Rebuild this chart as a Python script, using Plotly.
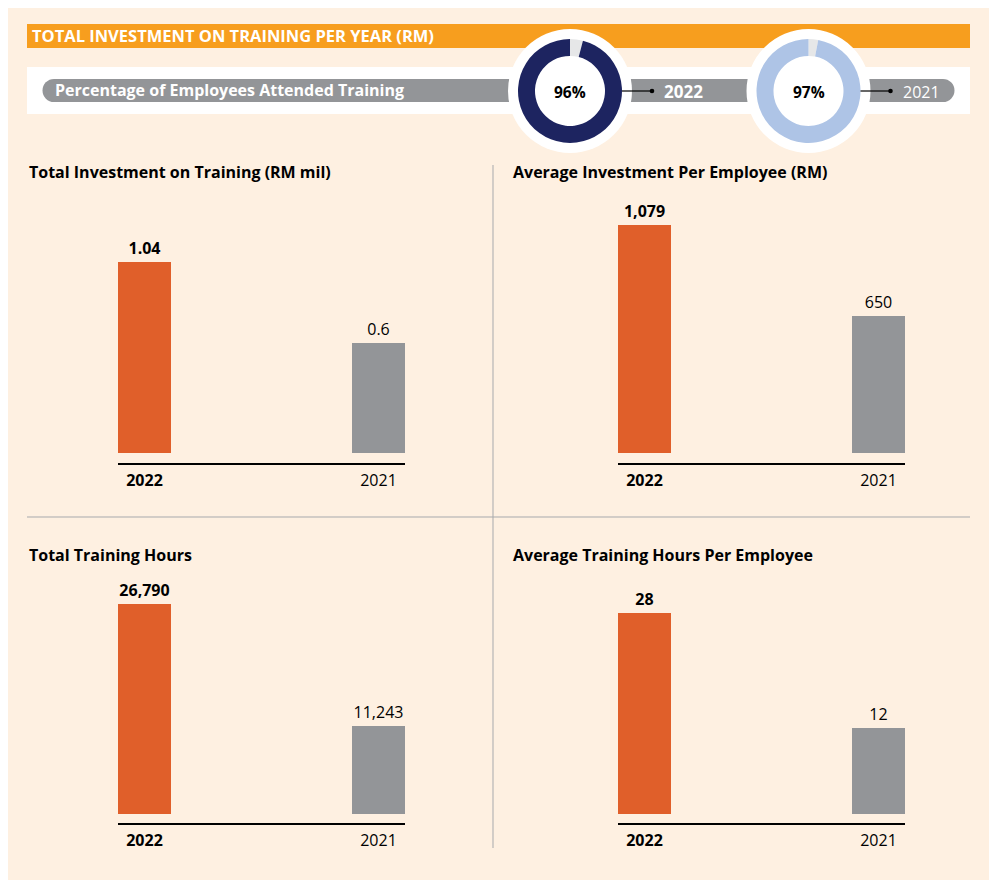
import plotly.graph_objects as go

# ---------------- data ----------------
years = ["2022", "2021"]
attend_pct = [96, 97]
invest_total_rm_mil = [1.04, 0.6]
invest_per_employee_rm = [1079, 650]
training_hours_total = [26790, 11243]
training_hours_per_employee = [28, 12]

panel_titles = [
    "Total Investment on Training (RM mil)",
    "Average Investment Per Employee (RM)",
    "Total Training Hours",
    "Average Training Hours Per Employee",
]
banner_title = "TOTAL INVESTMENT ON TRAINING PER YEAR (RM)"
pill_label = "Percentage of Employees Attended Training"

# ---------------- style ----------------
OFF = 8                      # page body margin
W, H = 997 - OFF, 887 - OFF  # figure size fitting the window
FONT = "Open Sans"
CREAM = "#FEF0E1"
BANNER = "#F79E1E"
ORANGE = "#E05F2A"
GREY = "#939598"
NAVY = "#1D2460"
LIGHTBLUE = "#AEC4E6"
GAP = "#E6E7E8"
DIVIDER = "#A7A9AC"


def X(px):
    return (px - OFF) / W


def Y(py):
    return 1 - (py - OFF) / H


shapes = []


def rect(x0, y0, x1, y1, color, layer="below"):
    shapes.append(dict(type="rect", xref="paper", yref="paper",
                       x0=X(x0), x1=X(x1), y0=Y(y1), y1=Y(y0),
                       fillcolor=color, line=dict(width=0), layer=layer))


def circle(cx, cy, r, color, layer="below"):
    shapes.append(dict(type="circle", xref="paper", yref="paper",
                       x0=X(cx - r), x1=X(cx + r), y0=Y(cy + r), y1=Y(cy - r),
                       fillcolor=color, line=dict(width=0), layer=layer))


def line(x0, y0, x1, y1, color, width=1, layer="below"):
    shapes.append(dict(type="line", xref="paper", yref="paper",
                       x0=X(x0), x1=X(x1), y0=Y(y0), y1=Y(y1),
                       line=dict(color=color, width=width), layer=layer))


annotations = []


def text(x, y, s, size=15, color="black", xanchor="left", bold=False):
    annotations.append(dict(xref="paper", yref="paper", x=X(x), y=Y(y),
                            text=f"<b>{s}</b>" if bold else s, showarrow=False,
                            xanchor=xanchor, yanchor="middle",
                            font=dict(family=FONT, size=size, color=color)))


# background
rect(6, 4, 990, 880, CREAM)
# banner
rect(27, 24, 970, 48, BANNER)
text(30, 36, banner_title, size=16.5, color="white", bold=True)
# white band
rect(27, 67, 970, 114, "white")
# pill segments
PY0, PY1, PCY = 79, 102, 90.5
rect(54, PY0, 560, PY1, GREY)
circle(54, PCY, (PY1 - PY0) / 2, GREY)
rect(580, PY0, 800, PY1, GREY)
rect(800, PY0, 943, PY1, GREY)
circle(943, PCY, (PY1 - PY0) / 2, GREY)
text(53, PCY, pill_label, size=16, color="white", bold=True)

# donuts
donut_cx = [570, 808.5]
donut_cy = 91
donut_r = 52
donut_colors = [NAVY, LIGHTBLUE]
traces = []
for i, (pct, cx) in enumerate(zip(attend_pct, donut_cx)):
    circle(cx, donut_cy, 62, "white")
    traces.append(go.Pie(
        values=[100 - pct, pct], sort=False, direction="clockwise", rotation=0,
        hole=35 / 52, textinfo="none", hoverinfo="skip", showlegend=False,
        marker=dict(colors=[GAP, donut_colors[i]], line=dict(width=0)),
        domain=dict(x=[X(cx - donut_r), X(cx + donut_r)],
                    y=[Y(donut_cy + donut_r), Y(donut_cy - donut_r)]),
    ))
    text(cx, donut_cy + 1, f"{pct}%", size=15.5, xanchor="center", bold=True)
    # connector + dot
    line(cx + donut_r, donut_cy, cx + donut_r + 30, donut_cy, "black", 1.2, layer="above")
    circle(cx + donut_r + 30, donut_cy, 2.3, "black", layer="above")
    text(cx + donut_r + 40, donut_cy + 1, years[i], size=17 if i == 0 else 16,
         color="white", bold=(i == 0))

# dividers
line(493, 165, 493, 848, DIVIDER, 1)
line(27, 517, 970, 517, DIVIDER, 1)

# ---------------- bar panels ----------------
panels = [
    dict(vals=invest_total_rm_mil, fmt=lambda v: f"{v:g}", x0=118, x1=405,
         dom_top=195, base=453, axis=463, top=262, title_xy=(27, 172)),
    dict(vals=invest_per_employee_rm, fmt=lambda v: f"{v:,}", x0=618, x1=905,
         dom_top=195, base=453, axis=463, top=225, title_xy=(511, 172)),
    dict(vals=training_hours_total, fmt=lambda v: f"{v:,}", x0=118, x1=405,
         dom_top=575, base=814, axis=823, top=604, title_xy=(27, 555)),
    dict(vals=training_hours_per_employee, fmt=lambda v: f"{v:,}", x0=618, x1=905,
         dom_top=575, base=814, axis=823, top=613, title_xy=(511, 555)),
]

layout_axes = {}
BAR_PX = 53
for k, p in enumerate(panels):
    n = "" if k == 0 else str(k + 1)
    dom_w = p["x1"] - p["x0"]
    w = BAR_PX / (dom_w - BAR_PX)
    scale = (p["base"] - p["top"]) / p["vals"][0]
    ymax = (p["base"] - p["dom_top"]) / scale
    ymin = -(p["axis"] - p["base"]) / scale
    labels = [p["fmt"](v) for v in p["vals"]]
    traces.append(go.Bar(
        x=[0, 1], y=p["vals"], width=w, xaxis="x" + n, yaxis="y" + n,
        marker=dict(color=[ORANGE, GREY], line=dict(width=0)),
        text=[f"<b>{labels[0]}</b>", labels[1]], textposition="outside",
        textfont=dict(family=FONT, size=16, color="black"),
        constraintext="none", cliponaxis=False, hoverinfo="skip", showlegend=False,
    ))
    layout_axes["xaxis" + n] = dict(
        domain=[X(p["x0"]), X(p["x1"])], anchor="y" + n,
        range=[-w / 2, 1 + w / 2], tickvals=[0, 1],
        ticktext=[f"<b>{years[0]}</b>", years[1]],
        showline=True, linecolor="black", linewidth=1.5, ticks="",
        showgrid=False, zeroline=False, ticklabelstandoff=2,
        tickfont=dict(family=FONT, size=16, color="black"), fixedrange=True,
    )
    layout_axes["yaxis" + n] = dict(
        domain=[Y(p["axis"]), Y(p["dom_top"])], anchor="x" + n,
        range=[ymin, ymax], visible=False, showgrid=False, zeroline=False,
        fixedrange=True,
    )
    text(p["title_xy"][0], p["title_xy"][1], panel_titles[k], size=16, bold=True)

fig = go.Figure(data=traces)
fig.update_layout(
    width=W, height=H, margin=dict(l=0, r=0, t=0, b=0),
    paper_bgcolor="white", plot_bgcolor="rgba(0,0,0,0)",
    shapes=shapes, annotations=annotations, bargap=0,
    font=dict(family=FONT), **layout_axes,
)
fig.write_html("out.html")
